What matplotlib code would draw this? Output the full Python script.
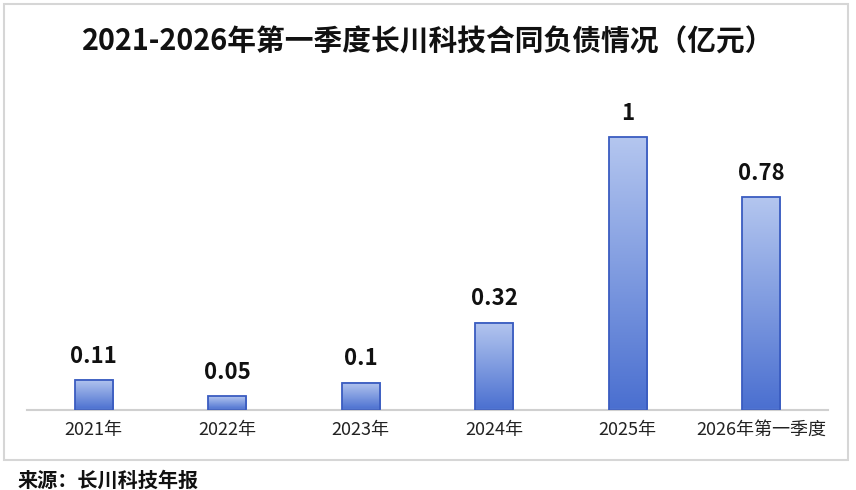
import matplotlib.pyplot as plt
import numpy as np
from matplotlib.colors import LinearSegmentedColormap
from matplotlib.patches import Rectangle

plt.rcParams['font.family'] = ['Noto Sans CJK SC', 'DejaVu Sans']

categories = ["2021年", "2022年", "2023年", "2024年", "2025年", "2026年第一季度"]
values = [0.11, 0.05, 0.1, 0.32, 1, 0.78]
value_labels = ["0.11", "0.05", "0.1", "0.32", "1", "0.78"]

title = "2021-2026年第一季度长川科技合同负债情况（亿元）"
source = "来源：长川科技年报"

fig = plt.figure(figsize=(8.56, 4.9), dpi=100)

# light grey frame round the chart
fig.patches.append(Rectangle((4 / 856, 1 - 460 / 490), 844 / 856, 456 / 490,
                             transform=fig.transFigure, fill=False,
                             edgecolor="#d6d6d6", linewidth=1.5))

ax = fig.add_axes([27 / 856, 80 / 490, 801 / 856, 300 / 490])

cmap = LinearSegmentedColormap.from_list("bar", ["#4a6fd0", "#7f9be0", "#b4c6ef"])
grad = np.linspace(0, 1, 256).reshape(-1, 1)
width = 0.285

x = np.arange(len(categories))
for xi, v, lab in zip(x, values, value_labels):
    ax.imshow(grad, cmap=cmap, origin="lower", aspect="auto",
              extent=(xi - width / 2, xi + width / 2, 0, v), zorder=2)
    ax.bar(xi, v, width=width, fill=False, edgecolor="#3a5cc0", linewidth=1.3, zorder=3)
    ax.text(xi, v + 0.045, lab, ha="center", va="bottom", fontsize=16,
            fontweight="bold", color="#111111")

ax.set_xlim(-0.5, len(categories) - 0.5)
ax.set_ylim(0, 300 / 273)
ax.set_xticks(x)
ax.set_xticklabels(categories, fontsize=13, color="#222222")
ax.tick_params(axis="x", length=0, pad=8)
ax.set_yticks([])
for s in ["top", "right", "left"]:
    ax.spines[s].set_visible(False)
ax.spines["bottom"].set_color("#d0d0d0")
ax.spines["bottom"].set_linewidth(1.5)

fig.text(0.5, 1 - 42 / 490, title, ha="center", va="center",
         fontsize=20.7, fontweight="bold", color="#111111")
fig.text(18 / 856, 1 - 480 / 490, source, ha="left", va="center",
         fontsize=14.5, fontweight="bold", color="#111111")

fig.savefig("out.png", dpi=100)
